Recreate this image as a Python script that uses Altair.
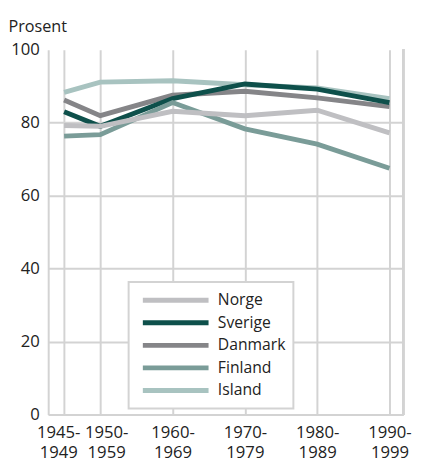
import altair as alt
import pandas as pd

countries = ["Norge", "Sverige", "Danmark", "Finland", "Island"]
colors = ["#bfbfc2", "#0e504b", "#858588", "#7a9c98", "#a8c3c0"]
draw_order = ["Island", "Danmark", "Sverige", "Finland", "Norge"]

start_years = [1945, 1950, 1960, 1970, 1980, 1990]
period_first = ["1945-", "1950-", "1960-", "1970-", "1980-", "1990-"]
period_second = ["1949", "1959", "1969", "1979", "1989", "1999"]

norge = [79.2, 79.0, 83.1, 81.9, 83.4, 77.2]
sverige = [83.0, 79.0, 86.6, 90.6, 89.2, 85.5]
danmark = [86.2, 81.9, 87.5, 88.6, 86.8, 84.4]
finland = [76.3, 76.7, 85.5, 78.3, 74.1, 67.5]
island = [88.3, 91.1, 91.5, 90.4, 89.5, 86.6]

series = {"Norge": norge, "Sverige": sverige, "Danmark": danmark,
          "Finland": finland, "Island": island}

rows = []
for c in draw_order:
    for yr, v in zip(start_years, series[c]):
        rows.append({"land": c, "aar": yr, "prosent": v})
df = pd.DataFrame(rows)

# label expression built from the label lists
expr = "''"
for yr, a, b in reversed(list(zip(start_years, period_first, period_second))):
    expr = f"datum.value == {yr} ? ['{a}', '{b}'] : {expr}"

FONT = "Open Sans"
GRID = "#d3d3d3"
TXT = "#222222"
W, H = 362, 372

xscale = alt.Scale(domain=[1942.8, 1991.9], nice=False, zero=False)
yscale = alt.Scale(domain=[0, 100], nice=False)
cscale = alt.Scale(domain=countries, range=colors)

xaxis = alt.Axis(
    values=start_years, labelExpr=expr, title=None, grid=True,
    gridColor=GRID, gridWidth=2, domain=True, domainColor=GRID, domainWidth=2,
    ticks=False, labelFont=FONT, labelFontSize=17, labelColor=TXT,
    labelPadding=10, labelLineHeight=21, labelOverlap=False,
    labelBaseline="top",
    labelOffset={"condition": [{"test": "datum.value == 1945", "value": -6},
                               {"test": "datum.value == 1950", "value": 6}],
                 "value": 0},
)
yaxis = alt.Axis(
    values=[0, 20, 40, 60, 80, 100], title="Prosent", titleAngle=0,
    titleAlign="left", titleBaseline="alphabetic", titleX=-41, titleY=-19,
    titleFont=FONT, titleFontSize=16.5, titleFontWeight="normal", titleColor=TXT,
    grid=True,
    gridColor={"condition": {"test": "datum.value == 100", "value": "transparent"}, "value": GRID},
    gridWidth=2, domain=True, domainColor=GRID, domainWidth=2, ticks=False,
    labelFont=FONT, labelFontSize=17, labelColor=TXT, labelPadding=9,
)

legend = alt.Legend(
    title=None, orient="none", legendX=82, legendY=237,
    symbolType="M-0.5,0H7.875", symbolSize=256, symbolStrokeWidth=5,
    labelFont=FONT, labelFontSize=16, labelColor=TXT,
    labelOffset=62, rowPadding=2, padding=8,
    strokeColor=GRID, fillColor="white",
)

lines = alt.Chart(df).mark_line(strokeWidth=5, strokeCap="butt", strokeJoin="miter").encode(
    x=alt.X("aar:Q", scale=xscale, axis=xaxis),
    y=alt.Y("prosent:Q", scale=yscale, axis=yaxis),
    color=alt.Color("land:N", scale=cscale, legend=legend),
)

right_border = alt.Chart(df).mark_rule(color=GRID, strokeWidth=2).encode(
    x=alt.value(W), y=alt.value(0), y2=alt.value(H)
)

chart = alt.layer(lines, right_border).properties(
    width=W, height=H,
    autosize=alt.AutoSizeParams(type="none"),
    padding={"left": 41, "top": 38, "right": 11, "bottom": 46},
).configure_view(stroke=None).configure_legend(strokeWidth=2)

chart.save("out.html", embed_options={"renderer": "svg", "actions": False})
